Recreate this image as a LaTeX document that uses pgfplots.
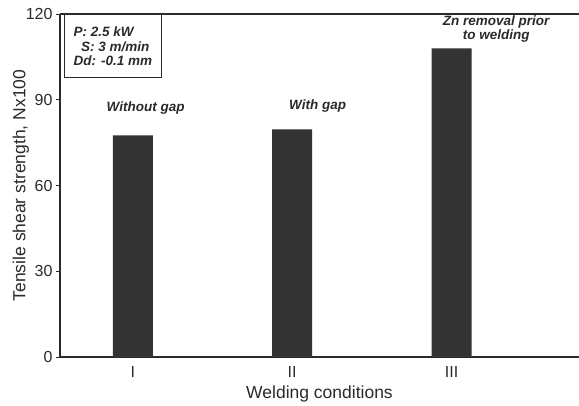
\documentclass[border=0pt]{standalone}
\usepackage{fontspec}
\setmainfont{Liberation Sans}
\usepackage{pgfplots}
\pgfplotsset{compat=1.18}
\definecolor{ink}{HTML}{2A2A2A}
\definecolor{barc}{HTML}{333333}
\begin{document}
\begin{tikzpicture}
\begin{axis}[name=ax, scale only axis, width=519pt, height=343pt,
  xmin=-0.457, xmax=2.80, ymin=0, ymax=120,
  axis x line*=box, axis y line*=left,
  axis line style={ink, line width=1.3pt},
  ytick={0,30,60,90,120}, xtick={0,1,2}, xticklabels={I,II,III},
  tick align=outside, major tick length=4pt,
  major x tick style={draw=none},
  y tick style={ink, line width=0.8pt},
  ticklabel style={font=\fontsize{16}{18}\selectfont, text=ink},
  xticklabel style={yshift=-2pt},
  /pgf/number format/assume math mode=true,
  xlabel={Welding conditions}, ylabel={Tensile shear strength, Nx100},
  label style={font=\fontsize{17.5}{20}\selectfont, text=ink},
  ylabel style={yshift=-10pt},
  xlabel style={yshift=-1pt},
  clip=false]
\addplot[ybar, bar width=40pt, fill=barc, draw=none] coordinates {(0,77.5) (1,79.6) (2,108)};
\draw[ink, line width=0.9pt] (axis cs:-0.426,97.9) rectangle (axis cs:0.182,120);
\node[align=left, font=\fontsize{13.5}{14.5}\selectfont\bfseries\itshape, text=ink, inner sep=0pt] at (axis cs:-0.125,108.6) {P: 2.5 kW\\\ \ S: 3 m/min\\Dd: -0.1 mm};
\node[font=\fontsize{13.5}{15}\selectfont\bfseries\itshape, text=ink] at (axis cs:0.08,87) {Without gap};
\node[font=\fontsize{13.5}{15}\selectfont\bfseries\itshape, text=ink] at (axis cs:1.16,87.8) {With gap};
\node[align=center, font=\fontsize{13.5}{13.5}\selectfont\bfseries\itshape, text=ink] at (axis cs:2.28,114.8) {Zn removal prior\\to welding};
\end{axis}
\pgfresetboundingbox
\path[use as bounding box] ([xshift=-60pt,yshift=-49pt]ax.south west) rectangle ([yshift=14pt]ax.north east);
\end{tikzpicture}
\end{document}
